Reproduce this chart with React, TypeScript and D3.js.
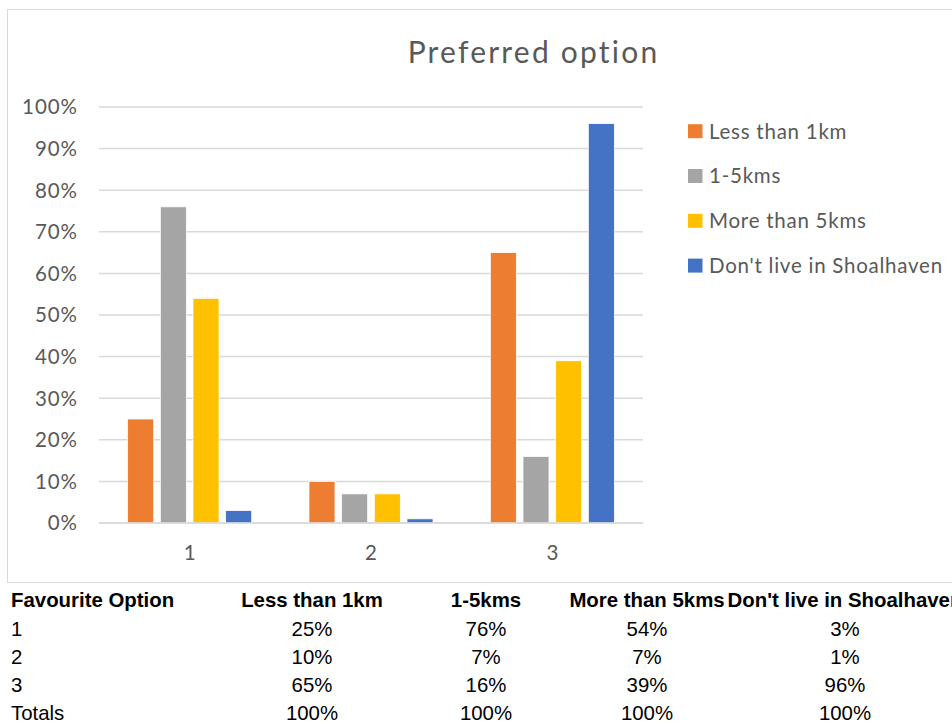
import React from "react";
import * as d3 from "d3";

// Preferred option by distance from Shoalhaven
const categories = ["1", "2", "3"];
const seriesNames = ["Less than 1km", "1-5kms", "More than 5kms", "Don't live in Shoalhaven"];
const lessThan1km = [0.25, 0.10, 0.65];
const oneToFiveKms = [0.76, 0.07, 0.16];
const moreThan5kms = [0.54, 0.07, 0.39];
const notShoalhaven = [0.03, 0.01, 0.96];
const seriesValues = [lessThan1km, oneToFiveKms, moreThan5kms, notShoalhaven];
const seriesColors = ["#ED7D31", "#A5A5A5", "#FFC000", "#4472C4"];
const yTicks = [0, 0.1, 0.2, 0.3, 0.4, 0.5, 0.6, 0.7, 0.8, 0.9, 1.0];

// Summary table below the chart
const tableHeader = ["Favourite Option", "Less than 1km", "1-5kms", "More than 5kms", "Don't live in Shoalhaven"];
const tableRowLabels = ["1", "2", "3", "Totals"];
const tableTotals = [1, 1, 1, 1];

const W = 952;
const H = 724;
const plot = { left: 99, right: 643, top: 107, bottom: 523 };
const calibri = "Lato, 'Open Sans', sans-serif";
const arial = "'Liberation Sans', Arial, sans-serif";

export default function App() {
  const x0 = d3.scaleBand<string>().domain(categories).range([plot.left, plot.right]).padding(0);
  const x1 = d3
    .scaleBand<string>()
    .domain(seriesNames)
    .range([0, x0.bandwidth()])
    .paddingInner(0.204)
    .paddingOuter(0.877);
  const y = d3.scaleLinear().domain([0, 1]).range([plot.bottom, plot.top]);
  const pct = d3.format(".0%");

  const colCenters = [0, 312, 486, 647, 845];
  const rowBaselines = [606.7, 635.5, 663.7, 691.9, 720.1];

  const tableRows = tableRowLabels.map((label, r) =>
    r < categories.length ? [label, ...seriesValues.map((s) => pct(s[r]))] : [label, ...tableTotals.map((t) => pct(t))]
  );

  return (
    <svg width={W} height={H} style={{ position: "absolute", left: 0, top: 0, display: "block", background: "#fff" }}>
      <rect x={7.5} y={9.5} width={960} height={573} fill="#fff" stroke="#D9D9D9" strokeWidth={1} />

      <text
        x={533.5}
        y={63.3}
        textAnchor="middle"
        fontFamily={calibri}
        fontSize={30}
        letterSpacing={2.2}
        fill="#595959"
      >
        Preferred option
      </text>

      {yTicks.map((t) => (
        <g key={t}>
          <line x1={plot.left} x2={plot.right} y1={y(t)} y2={y(t)} stroke="#D9D9D9" strokeWidth={1.5} />
          <text
            x={77.8}
            y={y(t) + 7.4}
            textAnchor="end"
            fontFamily={calibri}
            fontSize={20.5}
            letterSpacing={0.9}
            fill="#595959"
          >
            {pct(t)}
          </text>
        </g>
      ))}

      {categories.map((c, ci) => (
        <g key={c}>
          {seriesNames.map((s, si) => {
            const v = seriesValues[si][ci];
            return (
              <rect
                key={s}
                x={(x0(c) ?? 0) + (x1(s) ?? 0)}
                y={y(v)}
                width={x1.bandwidth()}
                height={y(0) - y(v)}
                fill={seriesColors[si]}
                stroke="#fff"
                strokeWidth={0.75}
              />
            );
          })}
          <text
            x={(x0(c) ?? 0) + x0.bandwidth() / 2}
            y={560}
            textAnchor="middle"
            fontFamily={calibri}
            fontSize={20.5}
            fill="#595959"
          >
            {c}
          </text>
        </g>
      ))}

      <line x1={plot.left} x2={plot.right} y1={y(0)} y2={y(0)} stroke="#D9D9D9" strokeWidth={1.5} />

      {seriesNames.map((s, i) => {
        const cy = 131.2 + i * 44.8;
        return (
          <g key={s}>
            <rect x={688} y={cy - 7} width={14.5} height={14} fill={seriesColors[i]} />
            <text x={709} y={cy + 7.4} fontFamily={calibri} fontSize={20.5} letterSpacing={0.75} fill="#595959">
              {s}
            </text>
          </g>
        );
      })}

      {tableHeader.map((h, i) => (
        <text
          key={h}
          x={i === 0 ? 11 : colCenters[i]}
          y={rowBaselines[0]}
          textAnchor={i === 0 ? "start" : "middle"}
          fontFamily={arial}
          fontWeight="bold"
          fontSize={20.4}
          fill="#000"
        >
          {h}
        </text>
      ))}
      {tableRows.map((row, r) =>
        row.map((cell, i) => (
          <text
            key={`${r}-${i}`}
            x={i === 0 ? 11 : colCenters[i]}
            y={rowBaselines[r + 1]}
            textAnchor={i === 0 ? "start" : "middle"}
            fontFamily={arial}
            fontSize={20.4}
            fill="#000"
          >
            {cell}
          </text>
        ))
      )}
    </svg>
  );
}
